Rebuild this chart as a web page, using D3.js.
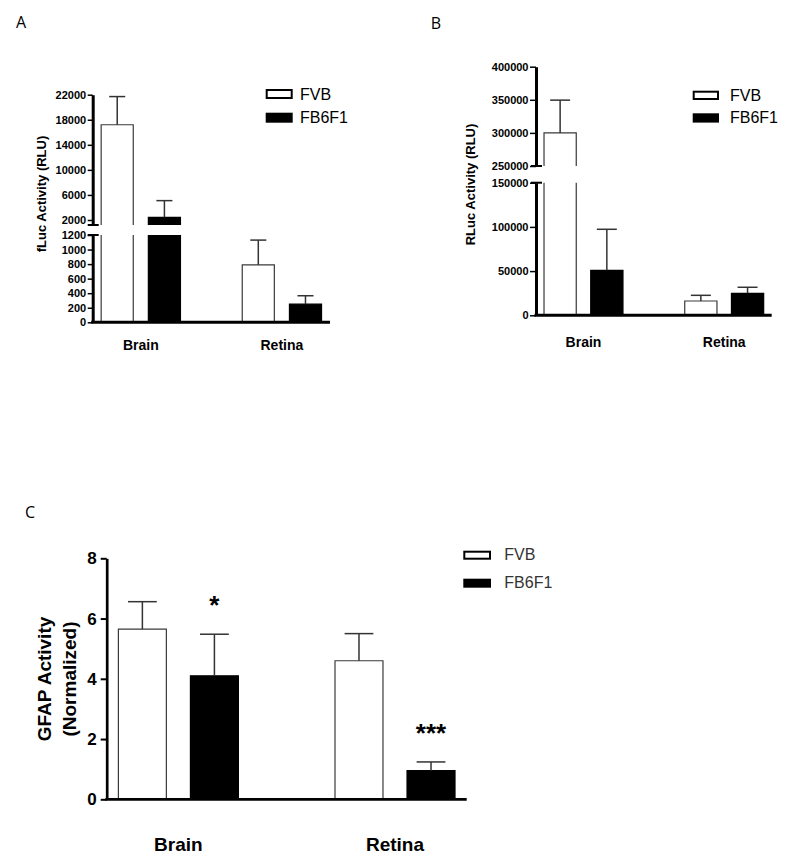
<!DOCTYPE html>
<html>
<head>
<meta charset="utf-8">
<script src="https://cdn.jsdelivr.net/npm/d3@7"></script>
<style>
  body { margin: 0; background: #fff; }
  svg { display: block; }
  text { font-family: "Liberation Sans", Arial, sans-serif; }
</style>
</head>
<body>
<div id="fig"></div>
<script>
// categories / groups
var categories = ["Brain", "Retina"];
var series = ["FVB", "FB6F1"];

// A - fLuc activity (RLU), mean and upper error
var fLucFVB = [17200, 790];
var fLucFVBErr = [4500, 340];
var fLucFB6F1 = [2430, 250];
var fLucFB6F1Err = [2660, 115];
var fLucTicksLow = [0, 200, 400, 600, 800, 1000, 1200];
var fLucTicksHigh = [2000, 6000, 10000, 14000, 18000, 22000];

// B - RLuc activity (RLU)
var rLucFVB = [300000, 16200];
var rLucFVBErr = [49500, 6400];
var rLucFB6F1 = [50900, 24900];
var rLucFB6F1Err = [46400, 6800];
var rLucTicksLow = [0, 50000, 100000, 150000];
var rLucTicksHigh = [250000, 300000, 350000, 400000];

// C - GFAP activity (normalized)
var gfapFVB = [5.65, 4.60];
var gfapFVBErr = [0.91, 0.90];
var gfapFB6F1 = [4.10, 0.95];
var gfapFB6F1Err = [1.38, 0.29];
var gfapSigFB6F1 = ["*", "***"];
var gfapTicks = [0, 2, 4, 6, 8];

var svg = d3.select("#fig")
  .append("svg")
    .attr("width", 800)
    .attr("height", 867);

function makeRows(vals, errs, sigs) {
  var rows = [];
  categories.forEach(function(c, i) {
    series.forEach(function(s, j) {
      rows.push({cat: c, ser: s, v: vals[j][i], e: errs[j][i], sig: sigs ? sigs[j][i] : ""});
    });
  });
  return rows;
}

function panel(o) {
  var g = svg.append("g");

  var x0 = d3.scaleBand().domain(categories)
    .range([o.x0, o.x1]).paddingInner(o.padIn).paddingOuter(o.padOut);
  var x1 = d3.scaleBand().domain(series)
    .range([0, x0.bandwidth()]).paddingInner(o.barPad);

  var lowMax = o.lowDomain[1];
  var yLow = d3.scaleLinear().domain(o.lowDomain).range([o.yBase, o.yLowTop]);
  var yHigh = o.highDomain ? d3.scaleLinear().domain(o.highDomain).range([o.yHighBottom, o.yTop]) : null;
  function yOf(v) { return (yHigh && v > lowMax) ? yHigh(v) : yLow(v); }

  var rows = o.rows;
  var fill = function(d) { return d.ser === "FVB" ? "#fff" : "#000"; };
  var stroke = function(d) { return d.ser === "FVB" ? "#3a3a3a" : "#000"; };

  // bars, lower part
  rows.forEach(function(d) {
    var l = x0(d.cat) + x1(d.ser), r = l + x1.bandwidth();
    var top = yLow(Math.min(d.v, lowMax)), base = o.yBase;
    g.append("rect").attr("x", l).attr("y", top).attr("width", r - l).attr("height", base - top)
      .attr("fill", fill(d));
    var p = (yHigh && d.v > lowMax)
      ? "M" + l + "," + top + "V" + base + "M" + r + "," + top + "V" + base
      : "M" + l + "," + base + "V" + top + "H" + r + "V" + base;
    g.append("path").attr("d", p).attr("fill", "none").attr("stroke", stroke(d)).attr("stroke-width", 1.2);
    // upper part above the break
    if (yHigh && d.v > o.highDomain[0]) {
      var t2 = yHigh(d.v), b2 = yHigh(o.highDomain[0]);
      g.append("rect").attr("x", l).attr("y", t2).attr("width", r - l).attr("height", b2 - t2)
        .attr("fill", fill(d));
      g.append("path").attr("d", "M" + l + "," + b2 + "V" + t2 + "H" + r + "V" + b2)
        .attr("fill", "none").attr("stroke", stroke(d)).attr("stroke-width", 1.2);
    }
  });

  // error bars
  rows.forEach(function(d) {
    var cx = x0(d.cat) + x1(d.ser) + x1.bandwidth() / 2;
    var cw = x1.bandwidth() * o.capFrac / 2;
    var yt = yOf(d.v + d.e);
    g.append("line").attr("x1", cx).attr("x2", cx).attr("y1", yOf(d.v)).attr("y2", yt)
      .attr("stroke", "#333").attr("stroke-width", 1.5);
    g.append("line").attr("x1", cx - cw).attr("x2", cx + cw).attr("y1", yt).attr("y2", yt)
      .attr("stroke", "#333").attr("stroke-width", 1.5);
    if (d.sig) {
      g.append("text").attr("x", cx).attr("y", yt - 20)
        .attr("text-anchor", "middle").style("font-size", "26px").style("font-weight", "bold")
        .text(d.sig);
    }
  });

  // y axes
  function styleAxis(a) {
    a.selectAll(".domain").attr("stroke", "#000").attr("stroke-width", o.axisW);
    a.selectAll(".tick line").attr("stroke", "#000").attr("stroke-width", o.tickW);
    a.selectAll(".tick text").attr("fill", "#000")
      .style("font-family", '"Liberation Sans", Arial, sans-serif')
      .style("font-size", o.tickFont + "px").style("font-weight", "bold");
  }
  var fmt = d3.format("d");
  var aLow = g.append("g").attr("transform", "translate(" + o.x0 + ",0)")
    .call(d3.axisLeft(yLow).tickValues(o.lowTicks).tickFormat(fmt)
      .tickSize(o.tickLen).tickSizeOuter(0).tickPadding(o.tickPad));
  styleAxis(aLow);
  if (yHigh) {
    var aHigh = g.append("g").attr("transform", "translate(" + o.x0 + ",0)")
      .call(d3.axisLeft(yHigh).tickValues(o.highTicks).tickFormat(fmt)
        .tickSize(o.tickLen).tickSizeOuter(0).tickPadding(o.tickPad));
    styleAxis(aHigh);
    // break caps
    [yLow(lowMax), yHigh(o.highDomain[0])].forEach(function(yy) {
      g.append("line").attr("x1", o.x0 - 5).attr("x2", o.x0 + 6).attr("y1", yy).attr("y2", yy)
        .attr("stroke", "#000").attr("stroke-width", 2);
    });
  }

  // x axis
  var ax = g.append("g").attr("transform", "translate(0," + o.yBase + ")")
    .call(d3.axisBottom(x0).tickSize(0).tickSizeOuter(0).tickPadding(o.catPad));
  ax.select(".domain").attr("d", "M" + (o.x0 - o.axisW / 2) + ",0H" + o.x1)
    .attr("stroke", "#000").attr("stroke-width", o.axisW);
  ax.selectAll(".tick text").attr("fill", "#000")
    .style("font-family", '"Liberation Sans", Arial, sans-serif')
    .style("font-size", o.catFont + "px").style("font-weight", "bold");

  // y label
  o.yLabel.forEach(function(t, i) {
    g.append("text")
      .attr("transform", "translate(" + o.yLabelX[i] + "," + o.yLabelY + ")rotate(-90)")
      .attr("text-anchor", "middle").attr("dy", "0.35em")
      .style("font-size", o.yLabelFont + "px").style("font-weight", "bold")
      .text(t);
  });

  // legend
  series.forEach(function(s, j) {
    var ly = o.legY + j * o.legGap;
    if (s === "FVB") {
      g.append("rect").attr("x", o.legX + 1).attr("y", ly + 1)
        .attr("width", o.legW - 2).attr("height", o.legH - 2)
        .attr("fill", "#fff").attr("stroke", "#000").attr("stroke-width", 2);
    } else {
      g.append("rect").attr("x", o.legX).attr("y", ly)
        .attr("width", o.legW).attr("height", o.legH).attr("fill", "#000");
    }
    g.append("text").attr("x", o.legX + o.legTextDx).attr("y", ly + o.legH + 0.5)
      .style("font-size", "16px").attr("fill", o.legColor).text(s);
  });

  // panel letter
  g.append("text").attr("x", o.letterX).attr("y", o.letterY)
    .style("font-family", '"Open Sans", sans-serif').style("font-size", "16px")
    .text(o.letter);
}

panel({
  letter: "A", letterX: 16, letterY: 28,
  rows: makeRows([fLucFVB, fLucFB6F1], [fLucFVBErr, fLucFB6F1Err]),
  x0: 92.7, x1: 330, padIn: 0.438, padOut: 0.06, barPad: 0.32, capFrac: 0.5,
  yBase: 322.3, lowDomain: [0, 1200], yLowTop: 235, lowTicks: fLucTicksLow,
  highDomain: [1200, 22000], yHighBottom: 225, yTop: 94.7, highTicks: fLucTicksHigh,
  axisW: 3, tickW: 1.5, tickLen: 5, tickPad: 1.5, tickFont: 11,
  catPad: 17.7, catFont: 14,
  yLabel: ["fLuc Activity (RLU)"], yLabelX: [41.5], yLabelY: 194, yLabelFont: 13,
  legX: 265.7, legY: 89, legGap: 23.7, legW: 27, legH: 10, legTextDx: 34.3, legColor: "#000"
});

panel({
  letter: "B", letterX: 430.7, letterY: 29.3,
  rows: makeRows([rLucFVB, rLucFB6F1], [rLucFVBErr, rLucFB6F1Err]),
  x0: 536, x1: 771.7, padIn: 0.439, padOut: 0.057, barPad: 0.31, capFrac: 0.62,
  yBase: 315.3, lowDomain: [0, 150000], yLowTop: 182.7, lowTicks: rLucTicksLow,
  highDomain: [250000, 400000], yHighBottom: 166, yTop: 66.7, highTicks: rLucTicksHigh,
  axisW: 3, tickW: 1.5, tickLen: 6, tickPad: 1.5, tickFont: 11,
  catPad: 21.3, catFont: 14,
  yLabel: ["RLuc Activity (RLU)"], yLabelX: [470.3], yLabelY: 184.5, yLabelFont: 13,
  legX: 692.7, legY: 90.7, legGap: 22.6, legW: 26.3, legH: 9.3, legTextDx: 37.3, legColor: "#000"
});

panel({
  letter: "C", letterX: 25, letterY: 518,
  rows: makeRows([gfapFVB, gfapFB6F1], [gfapFVBErr, gfapFB6F1Err], [["", ""], gfapSigFB6F1]),
  x0: 106.7, x1: 466.7, padIn: 0.446, padOut: 0.054, barPad: 0.334, capFrac: 0.6,
  yBase: 799.3, lowDomain: [0, 8], yLowTop: 558.3, lowTicks: gfapTicks,
  highDomain: null,
  axisW: 2.7, tickW: 2, tickLen: 6, tickPad: 4, tickFont: 17,
  catPad: 38.2, catFont: 19,
  yLabel: ["GFAP Activity", "(Normalized)"], yLabelX: [44, 69], yLabelY: 679, yLabelFont: 19,
  legX: 463.3, legY: 550.7, legGap: 28, legW: 27.7, legH: 9, legTextDx: 41, legColor: "#333"
});
</script>
</body>
</html>
